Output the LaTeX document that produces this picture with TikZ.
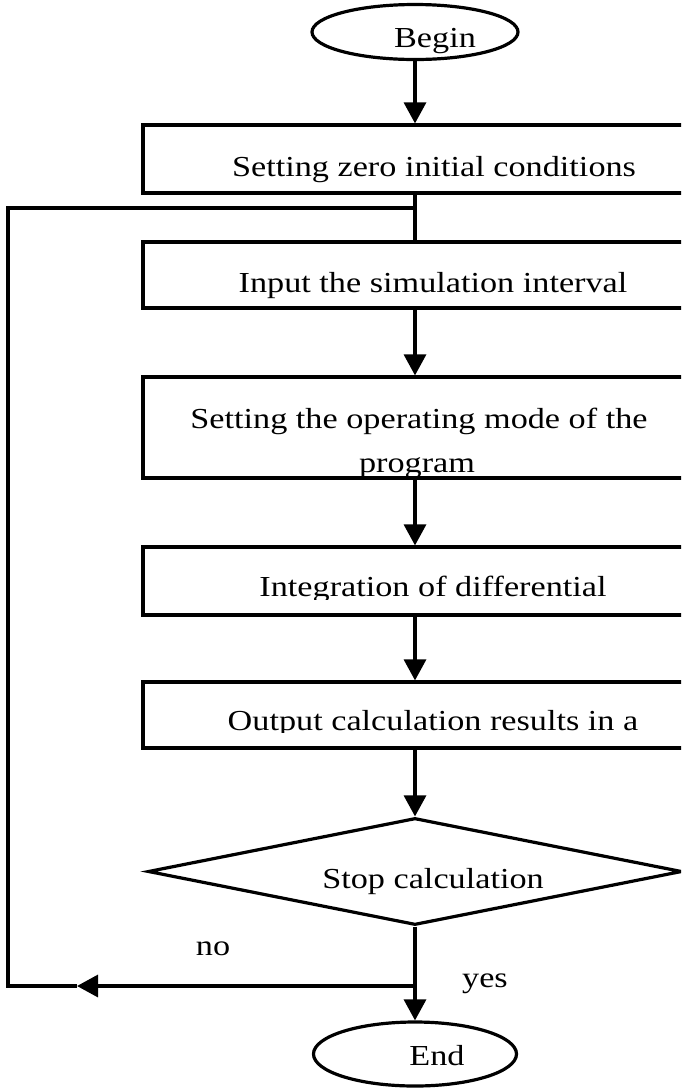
\documentclass[tikz,border=0pt]{standalone}
\usepackage{fontspec}
\newfontfamily\diagfont[FakeStretch=1.18]{Liberation Serif}
\usetikzlibrary{arrows.meta,shapes.geometric}
\begin{document}
\begin{tikzpicture}[x=1pt,y=-1pt,
  box/.style={draw, rectangle, minimum width=580pt, inner sep=0pt, line width=3.2pt},
  term/.style={draw, ellipse, inner sep=0pt, line width=3.2pt},
  decision/.style={draw, diamond, inner sep=0pt, minimum width=534pt, minimum height=107pt, line width=3.2pt},
  txt/.style={font=\diagfont\fontsize{29}{44}\selectfont, inner sep=0pt, anchor=base},
  arr/.style={-{Triangle[length=21pt,width=22pt]}}]
\fill[white] (0,0) rectangle (681,1088);
\useasboundingbox (0,0) rectangle (681,1088);
\clip (0,0) rectangle (681,1088);
\begin{scope}[line width=3.2pt]
% shapes
\node[term, minimum width=206pt, minimum height=55pt] (begin) at (415,32) {};
\node[box, minimum height=68pt] (b1) at (433,159) {};
\node[box, minimum height=66pt] (b2) at (433,275) {};
\node[box, minimum height=101pt] (b3) at (433,427.5) {};
\node[box, minimum height=68pt] (b4) at (433,581) {};
\node[box, minimum height=66pt] (b5) at (433,715) {};
\node[decision] (dec) at (415,871.5) {};
\node[term, minimum width=203pt, minimum height=64pt] (end) at (415,1054) {};
% texts
\node[txt] (tbegin) at (435,47) {Begin};
\node[txt] (t1) at (434,176) {Setting zero initial conditions};
\node[txt] (t2) at (433,292) {Input the simulation interval};
\node[txt] (t3a) at (419,428) {Setting the operating mode of the};
\begin{scope}
\clip (b3.north west) rectangle (681,476);
\node[txt] (t3b) at (417,472) {program};
\end{scope}
\begin{scope}
\clip (b4.north west) rectangle (681,599);
\node[txt] (t4) at (433,596) {Integration of differential};
\end{scope}
\begin{scope}
\clip (b5.north west) rectangle (681,732);
\node[txt] (t5) at (433,730) {Output calculation results in a};
\end{scope}
\node[txt] (tdec) at (433,888) {Stop calculation};
\node[txt] (tno) at (213,955) {no};
\node[txt] (tyes) at (485,987) {yes};
\node[txt] (tend) at (437,1065) {End};
% connectors
\coordinate (join) at (415,208);
\coordinate (split) at (415,986);
\coordinate (tip) at (77,986);
\coordinate (c1) at (8,986);
\coordinate (c2) at (8,208);
\draw[arr] (begin.south) -- (begin.south |- b1.north);
\draw (b1.south -| begin) -- (b2.north -| begin);
\draw[arr] (b2.south -| begin) -- (b3.north -| begin);
\draw[arr] (b3.south -| begin) -- (b4.north -| begin);
\draw[arr] (b4.south -| begin) -- (b5.north -| begin);
\draw[arr] (b5.south -| begin) -- (dec.north);
\draw[arr] (dec.south) -- (end.north);
\draw[arr] (split) -- (tip);
\draw (tip) -- (c1) -- (c2) -- (join);
\end{scope}
\end{tikzpicture}
\end{document}
